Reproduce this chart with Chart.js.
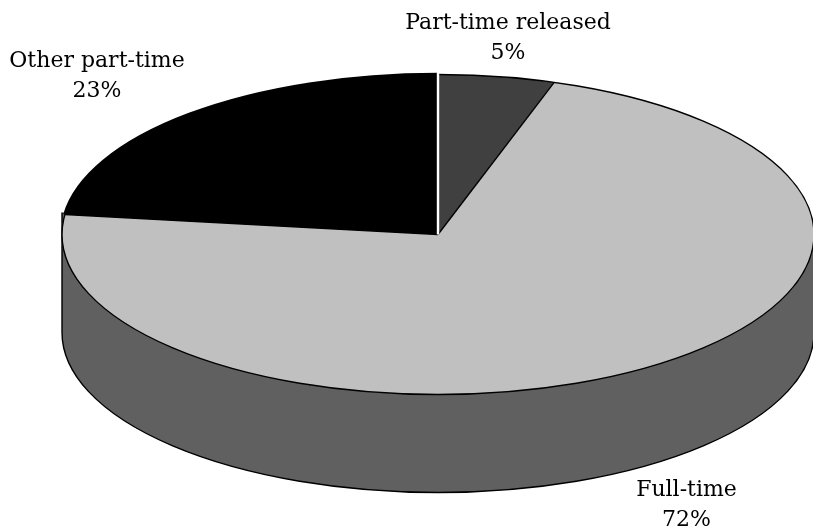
<!DOCTYPE html>
<html>
<head>
<meta charset="utf-8">
<title>Enrollment by attendance status</title>
<style>
    html, body { margin: 0; padding: 0; background: #fff; }
    canvas { display: block; }
</style>
<script src="https://cdn.jsdelivr.net/npm/chart.js@4/dist/chart.umd.min.js"></script>
</head>
<body>
<canvas id="chart" width="813" height="531"></canvas>
<script>
const categories = ["Part-time released", "Full-time", "Other part-time"];
const shares = [5, 72, 23];
const sliceColors = ["#404040", "#c0c0c0", "#000000"];
const wallColor = "#606060";

// Tilted disc: where the flattened pie sits on the canvas
const disc = { cx: 438, cy: 234.5, rx: 376, ry: 160, depth: 98 };
const outlineWidth = 1.4;

// Anchor (centre x, first baseline) for each category's two-line label
const labelAnchors = [[508, 29], [686.5, 496], [97, 67]];

function discPoint(angle) {
    return {
        x: disc.cx + disc.rx * Math.cos(angle),
        y: disc.cy + disc.ry * Math.sin(angle)
    };
}

const tiltedPie = {
    id: "tiltedPie",
    beforeDatasetsDraw(chart) {
        const { ctx } = chart;
        const arcs = chart.getDatasetMeta(0).data;
        const back = discPoint(arcs[1].endAngle);

        // side wall, visible below the disc
        ctx.save();
        ctx.beginPath();
        ctx.moveTo(disc.cx + disc.rx, disc.cy);
        ctx.lineTo(disc.cx + disc.rx, disc.cy + disc.depth);
        ctx.ellipse(disc.cx, disc.cy + disc.depth, disc.rx, disc.ry, 0, 0, Math.PI);
        ctx.lineTo(disc.cx - disc.rx, back.y - 2);
        ctx.fillStyle = wallColor;
        ctx.fill();
        ctx.strokeStyle = "#000";
        ctx.lineWidth = outlineWidth;
        ctx.stroke();
        ctx.restore();

        // squash the library's round pie into the disc's ellipse
        const a = arcs[0];
        ctx.save();
        ctx.translate(disc.cx, disc.cy);
        ctx.scale(disc.rx / a.outerRadius, disc.ry / a.outerRadius);
        ctx.translate(-a.x, -a.y);
    },
    afterDatasetsDraw(chart) {
        const { ctx } = chart;
        ctx.restore();
        const arcs = chart.getDatasetMeta(0).data;

        // outlines go on after the transform so they stay an even width
        ctx.save();
        ctx.lineWidth = outlineWidth;
        ctx.strokeStyle = "#000";
        ctx.beginPath();
        ctx.ellipse(disc.cx, disc.cy, disc.rx, disc.ry, 0, 0, Math.PI * 2);
        ctx.stroke();

        [arcs[1].startAngle, arcs[1].endAngle].forEach(angle => {
            const p = discPoint(angle);
            ctx.beginPath();
            ctx.moveTo(disc.cx, disc.cy);
            ctx.lineTo(p.x, p.y);
            ctx.stroke();
        });

        // the dark back slice has a heavier rim
        ctx.lineWidth = 3.5;
        ctx.beginPath();
        ctx.ellipse(disc.cx, disc.cy, disc.rx, disc.ry, 0, arcs[2].startAngle, arcs[2].endAngle);
        ctx.stroke();

        const top = discPoint(arcs[0].startAngle);
        ctx.strokeStyle = "#fff";
        ctx.lineWidth = 2.4;
        ctx.beginPath();
        ctx.moveTo(disc.cx, disc.cy);
        ctx.lineTo(top.x, top.y - 3);
        ctx.stroke();
        ctx.restore();
    },
    afterDraw(chart) {
        const { ctx } = chart;
        ctx.save();
        ctx.fillStyle = "#000";
        ctx.textAlign = "center";
        ctx.textBaseline = "alphabetic";
        ctx.font = "22px 'DejaVu Serif'";
        categories.forEach((name, i) => {
            const [x, y] = labelAnchors[i];
            ctx.fillText(name, x, y);
            ctx.fillText(shares[i] + "%", x, y + 30);
        });
        ctx.restore();
    }
};

new Chart(document.getElementById("chart"), {
    type: "pie",
    data: {
        labels: categories,
        datasets: [{
            data: shares,
            backgroundColor: sliceColors,
            borderWidth: 0,
            clip: false
        }]
    },
    options: {
        responsive: false,
        animation: false,
        layout: { padding: 0 },
        plugins: {
            legend: { display: false },
            tooltip: { enabled: false }
        }
    },
    plugins: [tiltedPie]
});
</script>
</body>
</html>
